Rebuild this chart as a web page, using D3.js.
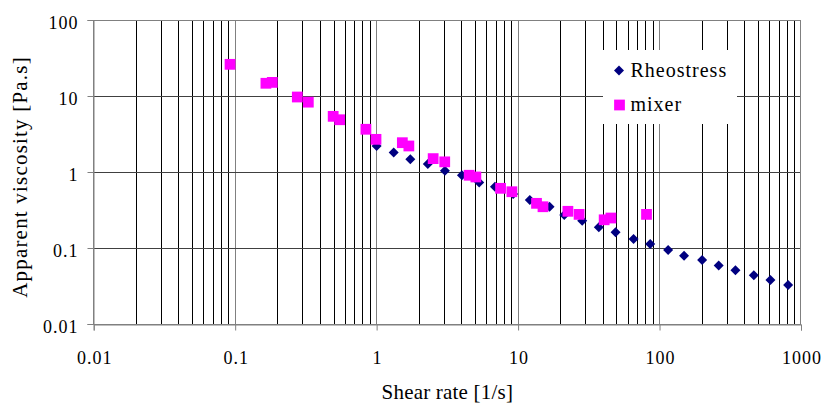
<!DOCTYPE html>
<html>
<head>
<meta charset="utf-8">
<script src="https://cdn.jsdelivr.net/npm/d3@7"></script>
<style>
  html, body { margin: 0; padding: 0; background: #fff; }
  svg { display: block; }
  svg text { font-family: "Liberation Serif", "Times New Roman", serif; fill: #000; }
</style>
</head>
<body>
<svg id="chart" width="821" height="403"></svg>
<script>
// Rheostress (diamonds)
const rheoShear = [1.0, 1.32, 1.73, 2.30, 3.04, 4.01, 5.31, 6.86, 9.23, 12.1, 16.7, 21.2, 28.4,
    37.2, 48.9, 65.5, 85.9, 115, 149, 200, 262, 344, 464, 608, 811];
const rheoVisc = [2.2, 1.81, 1.47, 1.27, 1.04, 0.906, 0.73, 0.641, 0.514, 0.428, 0.349, 0.272, 0.229,
    0.187, 0.161, 0.131, 0.113, 0.094, 0.079, 0.0695, 0.059, 0.051, 0.0438, 0.038, 0.0326];

// mixer (squares)
const mixerShear = [0.092, 0.165, 0.183, 0.275, 0.329, 0.493, 0.548, 0.84, 0.99, 1.52, 1.69, 2.51, 3.03,
    4.51, 5.03, 7.52, 9.04, 13.5, 15.0, 22.5, 27.0, 40.6, 45.3, 80.9];
const mixerVisc = [26.1, 14.7, 15.1, 9.7, 8.3, 5.4, 4.87, 3.65, 2.69, 2.43, 2.2, 1.50, 1.36,
    0.906, 0.86, 0.61, 0.55, 0.387, 0.349, 0.304, 0.277, 0.235, 0.248, 0.277];

const xTicks = [0.01, 0.1, 1, 10, 100, 1000];
const yTicks = [0.01, 0.1, 1, 10, 100];
const seriesNames = ['Rheostress', 'mixer'];

const svg = d3.select('#chart');
const plotLeft = 93.7, plotRight = 801, plotTop = 20, plotBottom = 324;

const x = d3.scaleLog().domain([0.01, 1000]).range([plotLeft, plotRight]);
const y = d3.scaleLog().domain([0.01, 100]).range([plotBottom, plotTop]);

const crisp = v => Math.round(v) + 0.5;

// minor vertical gridlines (2..9 in each decade)
const minor = [];
xTicks.slice(0, -1).forEach(d => {
    for (let k = 2; k <= 9; k++) minor.push(d * k);
});

svg.append('g')
    .selectAll('line')
    .data(minor)
    .join('line')
    .attr('x1', d => crisp(x(d) - 0.5))
    .attr('x2', d => crisp(x(d) - 0.5))
    .attr('y1', plotTop)
    .attr('y2', plotBottom)
    .attr('stroke', '#000');

// major vertical gridlines
svg.append('g')
    .selectAll('line')
    .data(xTicks.slice(1, -1))
    .join('line')
    .attr('x1', d => crisp(x(d) - 0.5))
    .attr('x2', d => crisp(x(d) - 0.5))
    .attr('y1', plotTop)
    .attr('y2', plotBottom)
    .attr('stroke', '#808080');

// horizontal gridlines
svg.append('g')
    .selectAll('line')
    .data(yTicks.slice(1))
    .join('line')
    .attr('x1', plotLeft)
    .attr('x2', plotRight)
    .attr('y1', d => crisp(y(d) - 0.5))
    .attr('y2', d => crisp(y(d) - 0.5))
    .attr('stroke', '#404040');

// plot frame
svg.append('rect')
    .attr('x', crisp(plotLeft - 0.5))
    .attr('y', crisp(plotTop - 0.5))
    .attr('width', Math.round(plotRight - plotLeft))
    .attr('height', Math.round(plotBottom - plotTop))
    .attr('fill', 'none')
    .attr('stroke', '#808080');

// axes
const xAxis = d3.axisBottom(x)
    .tickValues(xTicks)
    .tickFormat(d3.format('~g'))
    .tickSize(6);

const yAxis = d3.axisLeft(y)
    .tickValues(yTicks)
    .tickFormat(d3.format('~g'))
    .tickSize(6);

const gx = svg.append('g')
    .attr('transform', `translate(0,${crisp(plotBottom - 0.5)})`)
    .call(xAxis);
const gy = svg.append('g')
    .attr('transform', `translate(${crisp(plotLeft - 0.5)},0)`)
    .call(yAxis);

[gx, gy].forEach(g => {
    g.attr('font-family', null).attr('font-size', null);
    g.select('.domain').attr('stroke', '#808080');
    g.selectAll('.tick line').attr('stroke', '#808080');
    g.selectAll('.tick text')
        .attr('fill', '#000')
        .attr('dy', null)
        .style('font-size', '18px')
        .style('letter-spacing', '1px');
});
gx.selectAll('.tick text').attr('y', 39).attr('dx', '0.5');
gy.selectAll('.tick text').attr('y', 8.5).attr('x', -15);

// axis titles
svg.append('text')
    .attr('x', (plotLeft + plotRight) / 2)
    .attr('y', 398.5)
    .attr('text-anchor', 'middle')
    .style('font-size', '21px')
    .style('letter-spacing', '0.2px')
    .text('Shear rate [1/s]');

svg.append('text')
    .attr('transform', 'translate(27,177) rotate(-90)')
    .attr('text-anchor', 'middle')
    .style('font-size', '21px')
    .style('letter-spacing', '1.2px')
    .text('Apparent viscosity [Pa.s]');

// legend box
svg.append('rect')
    .attr('x', 603)
    .attr('y', 50)
    .attr('width', 134)
    .attr('height', 74)
    .attr('fill', '#fff');

const diamond = d3.symbol().type(d3.symbolSquare).size(50);
const square = d3.symbol().type(d3.symbolSquare).size(116);

const rheo = rheoShear.map((s, i) => ({ s, v: rheoVisc[i] }));
const mix = mixerShear.map((s, i) => ({ s, v: mixerVisc[i] }));

svg.append('g')
    .selectAll('path')
    .data(rheo)
    .join('path')
    .attr('d', diamond)
    .attr('transform', d => `translate(${x(d.s)},${y(d.v)}) rotate(45)`)
    .attr('fill', '#000080');

svg.append('g')
    .selectAll('path')
    .data(mix)
    .join('path')
    .attr('d', square)
    .attr('transform', d => `translate(${x(d.s)},${y(d.v)})`)
    .attr('fill', '#ff00ff');

// legend entries
const legend = svg.append('g');
legend.append('path')
    .attr('d', d3.symbol().type(d3.symbolSquare).size(50))
    .attr('transform', 'translate(619,70.5) rotate(45)')
    .attr('fill', '#000080');
legend.append('path')
    .attr('d', d3.symbol().type(d3.symbolSquare).size(116))
    .attr('transform', 'translate(619.5,105)')
    .attr('fill', '#ff00ff');
legend.selectAll('text')
    .data(seriesNames)
    .join('text')
    .attr('x', 630.5)
    .attr('y', (d, i) => 77 + i * 34)
    .style('font-size', '20px')
    .style('letter-spacing', '1px')
    .text(d => d);
</script>
</body>
</html>
